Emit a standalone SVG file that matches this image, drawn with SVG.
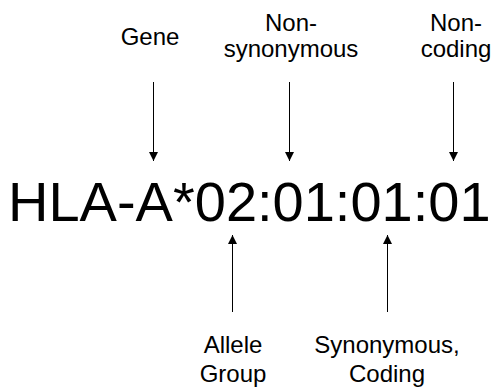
<svg xmlns="http://www.w3.org/2000/svg" width="496" height="390" viewBox="0 0 496 390">
  <style>
    .lbl { font-family: "Liberation Sans", Arial, sans-serif; font-size: 24px; fill: #000; text-anchor: middle; }
    .code { font-family: "Liberation Sans", Arial, sans-serif; font-size: 56px; fill: #000; }
    .conn { stroke: #000; stroke-width: 1; fill: none; }
  </style>
  <defs>
    <marker id="head" viewBox="0 0 10 10" refX="10" refY="5" markerWidth="9" markerHeight="9" markerUnits="userSpaceOnUse" orient="auto">
      <path d="M0,0 L10,5 L0,10 Z" fill="#000"/>
    </marker>
  </defs>
  <rect width="496" height="390" fill="#fff"/>

  <g id="allele-name">
    <text class="code" x="8" y="221">HLA-A*02:01:01:01</text>
  </g>

  <g id="gene">
    <text class="lbl" x="150" y="45">Gene</text>
  </g>
  <g id="non-synonymous">
    <text class="lbl" x="291" y="31">Non-</text>
    <text class="lbl" x="291" y="57">synonymous</text>
  </g>
  <g id="non-coding">
    <text class="lbl" x="456" y="31">Non-</text>
    <text class="lbl" x="456" y="57">coding</text>
  </g>
  <g id="allele-group">
    <text class="lbl" x="233" y="353">Allele</text>
    <text class="lbl" x="233" y="382">Group</text>
  </g>
  <g id="synonymous-coding">
    <text class="lbl" x="387" y="353">Synonymous,</text>
    <text class="lbl" x="387" y="382">Coding</text>
  </g>

  <g id="connectors">
    <line class="conn" x1="153.5" y1="82" x2="153.5" y2="161" marker-end="url(#head)"/>
    <line class="conn" x1="289.5" y1="82" x2="289.5" y2="161" marker-end="url(#head)"/>
    <line class="conn" x1="453.5" y1="82" x2="453.5" y2="161" marker-end="url(#head)"/>
    <line class="conn" x1="232.5" y1="312" x2="232.5" y2="235" marker-end="url(#head)"/>
    <line class="conn" x1="387.5" y1="312" x2="387.5" y2="235" marker-end="url(#head)"/>
  </g>
</svg>
